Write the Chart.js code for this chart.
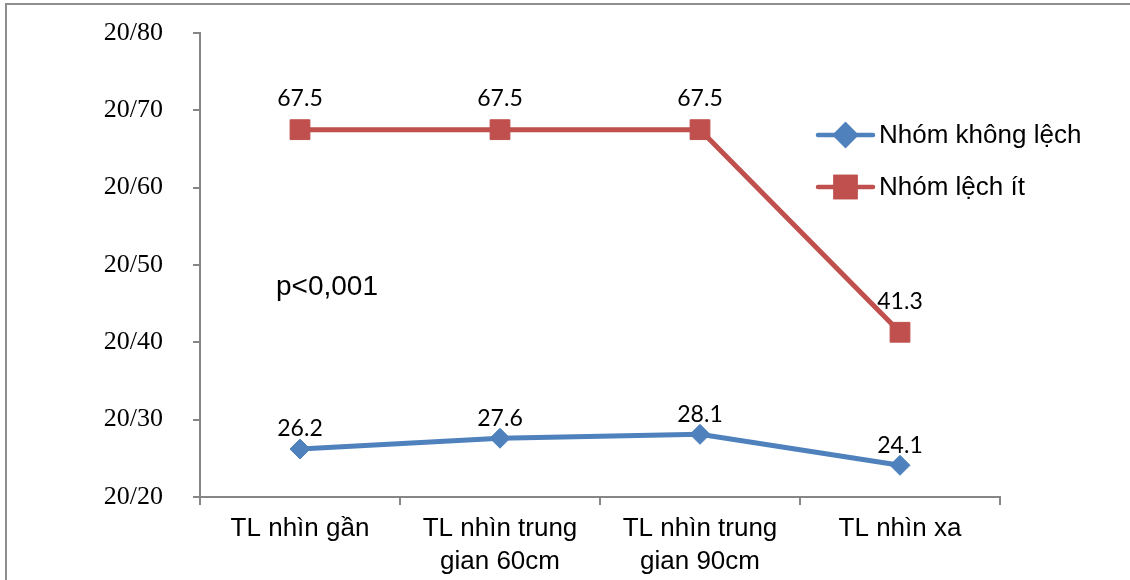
<!DOCTYPE html>
<html>
<head>
<meta charset="utf-8">
<script src="https://cdn.jsdelivr.net/npm/chart.js@4/dist/chart.umd.min.js"></script>
<style>
  html, body { margin: 0; padding: 0; background: #fff; overflow: hidden; }
  #wrap { position: relative; width: 1130px; height: 580px; }
  #frame { position: absolute; left: 5px; top: 3px; width: 1200px; height: 700px;
           border-left: 2px solid #8e8e8e; border-top: 2px solid #8e8e8e; pointer-events: none; }
  canvas { position: absolute; left: 0; top: 0; }
</style>
</head>
<body>
<div id="wrap">
  <canvas id="c" width="1130" height="580"></canvas>
  <div id="frame"></div>
</div>
<script>
// Categories (multi-line labels) and series values
const categories = [
  'TL nhìn gần',
  ['TL nhìn trung', 'gian 60cm'],
  ['TL nhìn trung', 'gian 90cm'],
  'TL nhìn xa'
];
const seriesNames = ['Nhóm không lệch', 'Nhóm lệch ít'];
const khongLech = [26.2, 27.6, 28.1, 24.1];
const lechIt = [67.5, 67.5, 67.5, 41.3];
const yTickValues = [20, 30, 40, 50, 60, 70, 80];
const annotationText = 'p<0,001';

const BLUE = '#4F81BD';
const RED = '#C0504D';
const AXIS = '#868686';

// Value labels above each point
const valueLabels = {
  id: 'valueLabels',
  afterDatasetsDraw(chart) {
    const ctx = chart.ctx;
    ctx.save();
    ctx.font = '23px Lato, "Open Sans", sans-serif';
    ctx.fillStyle = '#000';
    ctx.textAlign = 'center';
    ctx.textBaseline = 'middle';
    chart.data.datasets.forEach((ds, i) => {
      const meta = chart.getDatasetMeta(i);
      meta.data.forEach((pt, j) => {
        ctx.fillText(ds.data[j].toFixed(1), pt.x, pt.y - ds.labelOffset);
      });
    });
    ctx.restore();
  }
};

// Legend drawn on the right, with line + marker symbols
const sideLegend = {
  id: 'sideLegend',
  afterDraw(chart) {
    const ctx = chart.ctx;
    const x0 = 818, x1 = 873, tx = 879;
    const rows = [135, 187];
    ctx.save();
    chart.data.datasets.forEach((ds, i) => {
      const y = rows[i];
      ctx.strokeStyle = ds.borderColor;
      ctx.lineWidth = 4.5;
      ctx.lineCap = 'round';
      ctx.beginPath();
      ctx.moveTo(x0, y);
      ctx.lineTo(x1, y);
      ctx.stroke();
      Chart.helpers.drawPoint(ctx, {
        pointStyle: ds.pointStyle,
        radius: ds.pointRadius,
        borderWidth: 1
      }, (x0 + x1) / 2, y);
      ctx.fillStyle = ds.backgroundColor;
      ctx.strokeStyle = ds.borderColor;
      ctx.fill();
      ctx.stroke();
      ctx.fillStyle = '#000';
      ctx.font = '26px "Liberation Sans", Arial, sans-serif';
      ctx.textAlign = 'left';
      ctx.textBaseline = 'middle';
      ctx.fillText(ds.label, tx, y + 1);
    });
    ctx.font = '28px "Liberation Sans", Arial, sans-serif';
    ctx.textAlign = 'left';
    ctx.textBaseline = 'middle';
    ctx.fillStyle = '#000';
    ctx.fillText(annotationText, 276, 287);
    ctx.restore();
  }
};

new Chart(document.getElementById('c'), {
  type: 'line',
  data: {
    labels: categories,
    datasets: [
      {
        label: seriesNames[0],
        data: khongLech,
        borderColor: BLUE,
        backgroundColor: BLUE,
        borderWidth: 5,
        pointStyle: 'rectRot',
        pointRadius: 10,
        pointBorderWidth: 1,
        tension: 0,
        clip: false,
        labelOffset: 20
      },
      {
        label: seriesNames[1],
        data: lechIt,
        borderColor: RED,
        backgroundColor: RED,
        borderWidth: 5,
        pointStyle: 'rect',
        pointRadius: 14,
        pointBorderWidth: 1,
        tension: 0,
        clip: false,
        labelOffset: 31
      }
    ]
  },
  options: {
    responsive: false,
    animation: false,
    events: [],
    layout: { autoPadding: false, padding: { top: 33, right: 130, left: 0, bottom: 0 } },
    plugins: {
      legend: { display: false },
      tooltip: { enabled: false }
    },
    scales: {
      x: {
        offset: true,
        afterFit: s => { s.height = 83; s.paddingLeft = 0; s.paddingRight = 0; },
        grid: {
          offset: true,
          drawOnChartArea: false,
          tickLength: 8,
          color: AXIS,
          lineWidth: 2
        },
        border: { color: AXIS, width: 2 },
        ticks: {
          color: '#000',
          padding: 8,
          maxRotation: 0,
          autoSkip: false,
          font: { family: '"Liberation Sans", Arial, sans-serif', size: 26, lineHeight: 1.25 }
        }
      },
      y: {
        min: yTickValues[0],
        max: yTickValues[yTickValues.length - 1],
        afterFit: s => { s.width = 200; s.paddingTop = 0; s.paddingBottom = 0; },
        afterBuildTicks: s => { s.ticks = yTickValues.map(v => ({ value: v })); },
        grid: {
          drawOnChartArea: false,
          tickLength: 7,
          color: AXIS,
          lineWidth: 2
        },
        border: { color: AXIS, width: 2 },
        ticks: {
          color: '#000',
          padding: 30,
          callback: v => '20/' + v,
          font: { family: '"Liberation Serif", "Times New Roman", serif', size: 26 }
        }
      }
    }
  },
  plugins: [valueLabels, sideLegend]
});
</script>
</body>
</html>
